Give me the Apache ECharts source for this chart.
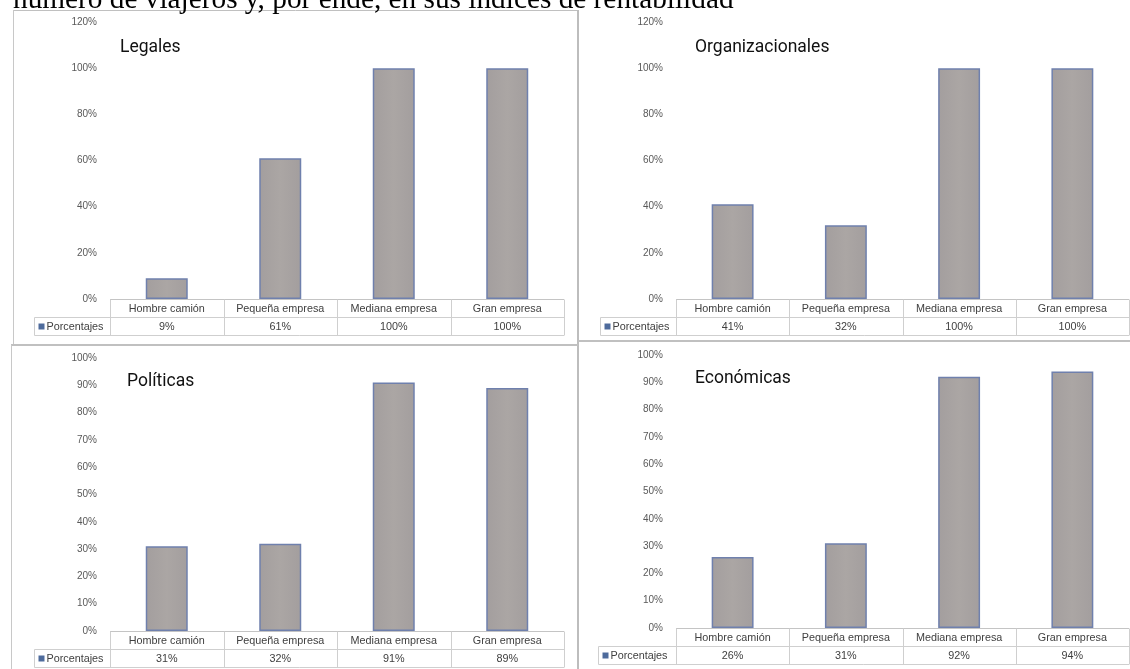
<!DOCTYPE html>
<html><head><meta charset="utf-8">
<script src="https://cdn.jsdelivr.net/npm/echarts@6/dist/echarts.min.js"></script>
<style>html,body{margin:0;padding:0;background:#fff;overflow:hidden}#c{width:1130px;height:669px}</style>
</head><body><div id="c"></div>
<script>
// ---- data ----
const introText = 'número de viajeros y, por ende, en sus índices de rentabilidad';
const categories = ['Hombre camión', 'Pequeña empresa', 'Mediana empresa', 'Gran empresa'];
const seriesName = 'Porcentajes';
const titles = ['Legales', 'Organizacionales', 'Políticas', 'Económicas'];
const legales = [9, 61, 100, 100];
const organizacionales = [41, 32, 100, 100];
const politicas = [31, 32, 91, 89];
const economicas = [26, 31, 92, 94];
const yMaxes = [120, 120, 100, 100];
const yIntervals = [20, 20, 10, 10];

// ---- layout / style ----
const panelData = [legales, organizacionales, politicas, economicas];
const grids = [
  {left: 110, top: 22, width: 454, height: 277},
  {left: 676, top: 22, width: 453, height: 277},
  {left: 110, top: 358, width: 454, height: 273},
  {left: 676, top: 355, width: 453, height: 273}
];
const legendLeft = [34, 600, 34, 598];
const titlePos = [[115, 34], [690, 34], [122, 368], [690, 365]];
const rowH = 18;
const lineCol = '#cfcfcf';
const textCol = '#404040';
const fontFam = '"Liberation Sans", Arial, sans-serif';

const chart = echarts.init(document.getElementById('c'));

const option = {
  animation: false,
  backgroundColor: '#fff',
  grid: grids.map(g => Object.assign({containLabel: false}, g)),
  xAxis: grids.map((g, i) => ({
    type: 'category', gridIndex: i, data: categories,
    axisLine: {show: false}, axisTick: {show: false}, axisLabel: {show: false}
  })),
  yAxis: grids.map((g, i) => ({
    type: 'value', gridIndex: i, min: 0, max: yMaxes[i], interval: yIntervals[i],
    axisLine: {show: false}, axisTick: {show: false}, splitLine: {show: false},
    axisLabel: {formatter: '{value}%', color: '#595959', fontSize: 10, fontFamily: fontFam, margin: 13}
  })),
  title: titles.map((t, i) => ({
    text: t, left: titlePos[i][0], top: titlePos[i][1],
    textStyle: {fontSize: 17.5, fontWeight: 'normal', color: '#111', fontFamily: 'Roboto, "Liberation Sans", sans-serif'}
  })),
  series: panelData.map((d, i) => ({
    type: 'bar', name: seriesName, xAxisIndex: i, yAxisIndex: i, data: d,
    barWidth: '37%',
    itemStyle: {
      color: new echarts.graphic.LinearGradient(0, 0, 1, 0, [
        {offset: 0, color: '#a39e9e'}, {offset: 0.5, color: '#aba6a4'}, {offset: 1, color: '#a39e9e'}
      ]),
      borderColor: '#6f80ad', borderWidth: 1.5
    }
  }))
};
chart.setOption(option);

// ---- data tables + frames from the axes' own scales ----
const graphics = [];
function line(x1, y1, x2, y2, color, w) {
  graphics.push({type: 'line', silent: true, shape: {x1, y1, x2, y2}, style: {stroke: color || lineCol, lineWidth: w || 1}});
}
function text(x, y, t, opts) {
  graphics.push({type: 'text', silent: true, x, y, style: Object.assign({
    text: t, fill: textCol, font: '10.8px ' + fontFam, textAlign: 'center', textVerticalAlign: 'middle'
  }, opts || {})});
}

panelData.forEach((d, i) => {
  const centers = categories.map(c => chart.convertToPixel({xAxisIndex: i}, c));
  const bw = centers[1] - centers[0];
  const edges = centers.map(c => c - bw / 2).concat([centers[centers.length - 1] + bw / 2]);
  const y0 = Math.round(chart.convertToPixel({yAxisIndex: i}, 0)) + 0.5;
  const y1 = y0 + rowH, y2 = y1 + rowH;
  const L = legendLeft[i] + 0.5, R = edges[edges.length - 1];
  line(edges[0], y0, R, y0, '#c4c4c4');
  line(L, y1, R, y1);
  line(L, y2, R, y2);
  line(L, y1, L, y2);
  edges.forEach(x => line(Math.round(x) + 0.5, y0, Math.round(x) + 0.5, y2));
  categories.forEach((c, j) => {
    text(centers[j], (y0 + y1) / 2 + 0.5, c);
    text(centers[j], (y1 + y2) / 2 + 0.5, d[j] + '%');
  });
  graphics.push({type: 'rect', silent: true, shape: {x: L + 4, y: (y1 + y2) / 2 - 3, width: 6, height: 6}, style: {fill: '#4e6b9c'}});
  text(L + 12, (y1 + y2) / 2 + 0.5, seriesName, {textAlign: 'left'});
});

// panel frames
line(13, 10.5, 578, 10.5, '#c0c0c0', 1);
line(13.5, 10, 13.5, 345, '#c8c8c8', 1);
line(578, 10, 578, 669, '#bdbdbd', 2);
line(11, 345, 578, 345, '#c0c0c0', 2);
line(11.5, 345, 11.5, 669, '#c8c8c8', 1);
line(578, 341, 1130, 341, '#c0c0c0', 2);

// intro text line (cut at top)
graphics.push({type: 'text', silent: true, x: 13, y: 0.5, style: {
  text: introText, fill: '#000', font: '29.3px "Liberation Serif", "Times New Roman", serif',
  textAlign: 'left', textVerticalAlign: 'middle'
}});

chart.setOption({graphic: graphics});
</script>
</body></html>
